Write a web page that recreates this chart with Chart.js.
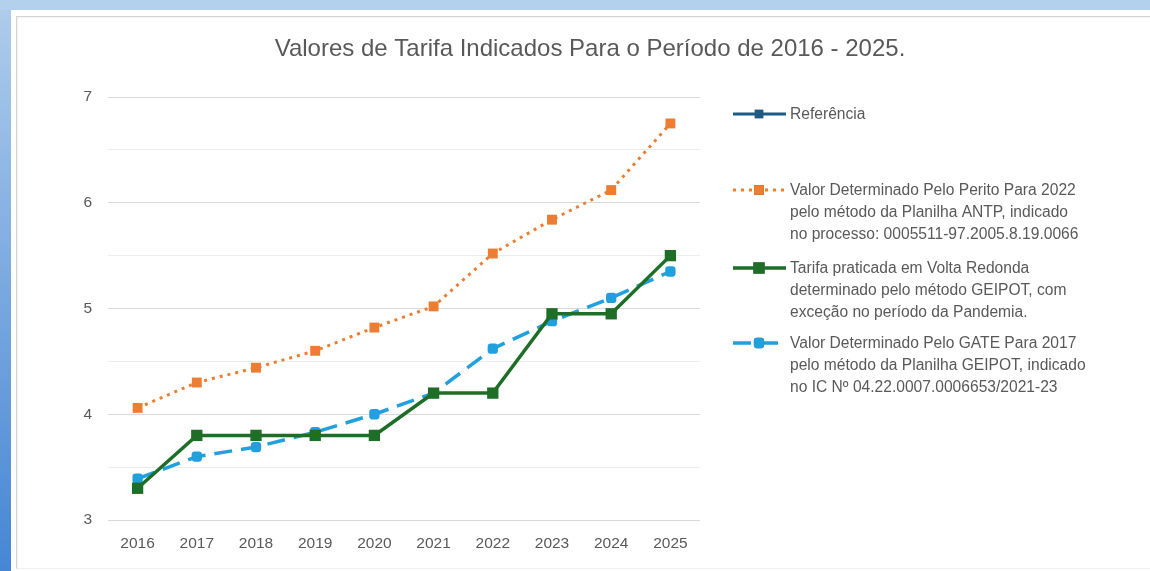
<!DOCTYPE html>
<html>
<head>
<meta charset="utf-8">
<script src="https://cdn.jsdelivr.net/npm/chart.js@4/dist/chart.umd.min.js"></script>
<style>
  html, body { margin: 0; padding: 0; width: 1150px; height: 571px; overflow: hidden; }
  body { background: linear-gradient(to bottom, #b0cdeb 0%, #7aa9e0 50%, #4686d4 100%); position: relative; }
  #topband { position: absolute; left: 0; top: 0; width: 1150px; height: 10px; background: #b3d0ec; }
  #sheet { position: absolute; left: 11px; top: 10px; width: 1139px; height: 561px; background: #ffffff; }
  #frame { position: absolute; left: 16px; top: 16px; width: 1140px; height: 551px; border-left: 1px solid #d4d4d4; border-top: 1px solid #d4d4d4; border-bottom: 1px solid #f0f0f0; box-shadow: inset 1px 1px 2px rgba(0,0,0,0.06); }
  #c { position: absolute; left: 0; top: 0; }
</style>
</head>
<body>
<div id="topband"></div>
<div id="sheet"></div>
<div id="frame"></div>
<canvas id="c" width="1150" height="571"></canvas>
<script>
const titleText = "Valores de Tarifa Indicados Para o Período de 2016 - 2025.";
const years = ["2016","2017","2018","2019","2020","2021","2022","2023","2024","2025"];
const referencia = [];
const perito = [4.06, 4.30, 4.44, 4.60, 4.82, 5.02, 5.52, 5.84, 6.12, 6.75];
const tarifa = [3.30, 3.80, 3.80, 3.80, 3.80, 4.20, 4.20, 4.95, 4.95, 5.50];
const gate = [3.39, 3.60, 3.69, 3.83, 4.00, 4.20, 4.62, 4.88, 5.10, 5.35];
const seriesLabels = [
  ["Referência"],
  ["Valor Determinado Pelo Perito Para 2022", "pelo método da Planilha ANTP, indicado", "no processo: 0005511-97.2005.8.19.0066"],
  ["Tarifa praticada em Volta Redonda", "determinado pelo método GEIPOT, com", "exceção no período da Pandemia."],
  ["Valor Determinado Pelo GATE Para 2017", "pelo método da Planilha GEIPOT, indicado", "no IC Nº 04.22.0007.0006653/2021-23"]
];
const yTickValues = [3, 4, 5, 6, 7];

const FONT = "'Liberation Sans', Arial, sans-serif";
const TEXT = "#595959";

const legendPlugin = {
  id: 'customLegend',
  afterDraw(chart) {
    const ctx = chart.ctx;
    ctx.save();
    // title
    ctx.font = "24px " + FONT;
    ctx.fillStyle = TEXT;
    ctx.textAlign = "center";
    ctx.textBaseline = "middle";
    ctx.fillText(titleText, 590, 49);
    // legend
    const startY = [114, 190, 268, 343];
    const lineH = 22;
    ctx.font = "15.6px " + FONT;
    chart.data.datasets.forEach((ds, i) => {
      const y = startY[i];
      ctx.save();
      ctx.strokeStyle = ds.borderColor;
      ctx.lineWidth = ds.borderWidth;
      ctx.setLineDash(ds.borderDash || []);
      ctx.lineCap = 'butt';
      ctx.beginPath();
      ctx.moveTo(733, y);
      ctx.lineTo(786, y);
      ctx.stroke();
      ctx.setLineDash([]);
      Chart.helpers.drawPoint(ctx, {
        pointStyle: ds.pointStyle,
        radius: ds.pointRadius,
        rotation: 0,
        borderWidth: 0
      }, 759, y);
      ctx.fillStyle = ds.pointBackgroundColor;
      ctx.fill();
      ctx.restore();
      ctx.fillStyle = TEXT;
      ctx.textAlign = "left";
      ctx.textBaseline = "middle";
      seriesLabels[i].forEach((t, k) => ctx.fillText(t, 790, y + 1 + k * lineH));
    });
    ctx.restore();
  }
};

new Chart(document.getElementById('c'), {
  type: 'line',
  data: {
    labels: years,
    datasets: [
      { label: seriesLabels[0].join(' '), data: referencia, borderColor: '#1d5b86', backgroundColor: '#1d5b86',
        pointBackgroundColor: '#1d5b86', pointBorderColor: '#1d5b86', borderWidth: 3, pointStyle: 'rect', pointRadius: 6 },
      { label: seriesLabels[1].join(' '), data: perito, borderColor: '#ed7d31', backgroundColor: '#ed7d31',
        pointBackgroundColor: '#ed7d31', pointBorderColor: '#ed7d31', borderWidth: 3, borderDash: [3, 5],
        pointStyle: 'rect', pointRadius: 7, pointBorderWidth: 0 },
      { label: seriesLabels[2].join(' '), data: tarifa, borderColor: '#1e6e27', backgroundColor: '#1e6e27',
        pointBackgroundColor: '#1e6e27', pointBorderColor: '#1e6e27', borderWidth: 3.5,
        pointStyle: 'rect', pointRadius: 8, pointBorderWidth: 0 },
      { label: seriesLabels[3].join(' '), data: gate, borderColor: '#20a0dc', backgroundColor: '#20a0dc',
        pointBackgroundColor: '#20a0dc', pointBorderColor: '#20a0dc', borderWidth: 3.5, borderDash: [18, 9],
        pointStyle: 'rectRounded', pointRadius: 6, pointBorderWidth: 0 }
    ]
  },
  options: {
    responsive: false,
    animation: false,
    layout: { padding: { left: 30, right: 450, top: 97, bottom: 0 } },
    plugins: {
      legend: { display: false },
      title: { display: false },
      tooltip: { enabled: false }
    },
    scales: {
      x: {
        offset: true,
        grid: { display: false, drawTicks: false },
        border: { display: false },
        ticks: { color: TEXT, font: { family: FONT, size: 15.5 }, padding: 14 },
        afterFit(s) { s.height = 51; }
      },
      y: {
        min: 3, max: 7,
        grid: {
          drawTicks: false,
          color: (c) => (Number.isInteger(c.tick.value) ? '#d9d9d9' : '#ececec'),
          lineWidth: 1
        },
        border: { display: false },
        ticks: {
          stepSize: 0.5,
          color: TEXT, font: { family: FONT, size: 15.5 }, padding: 16,
          callback: (v) => (yTickValues.includes(v) ? String(v) : '')
        },
        afterFit(s) { s.width = 78; }
      }
    }
  },
  plugins: [legendPlugin]
});
</script>
</body>
</html>
